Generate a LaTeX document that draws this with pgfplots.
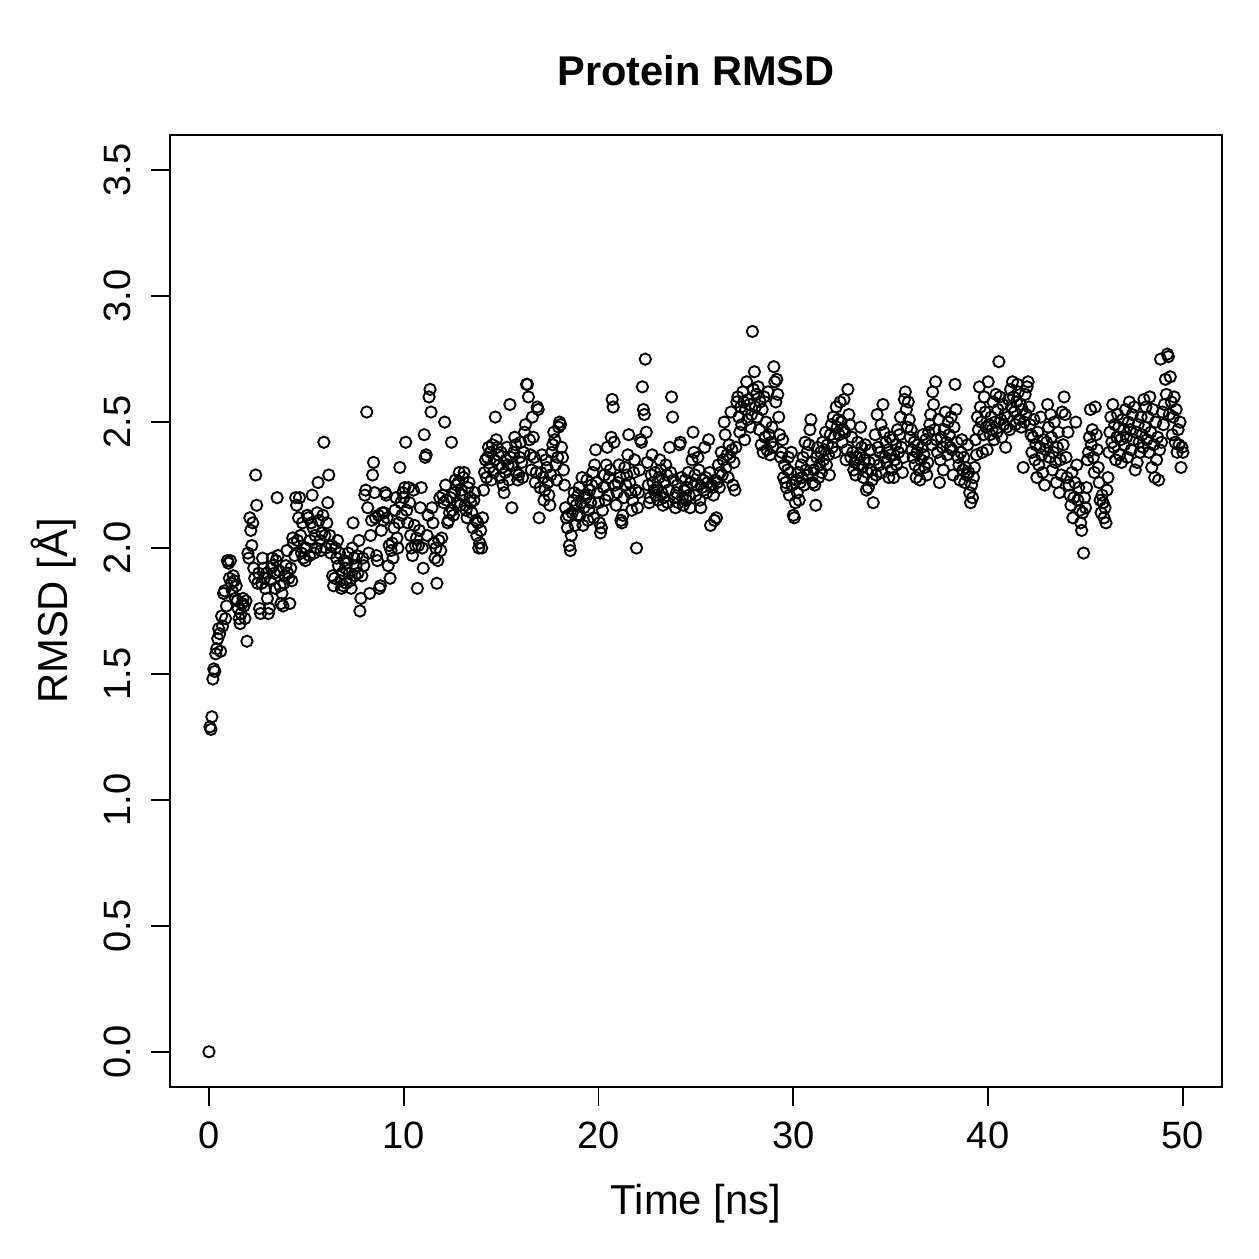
\documentclass[border=0pt]{standalone}
\usepackage{pgfplots}
\usepackage{pgfplotstable}
\pgfplotsset{compat=1.18}
\usepackage{fontspec}
\setmainfont{Liberation Sans}

% Backbone RMSD sampled every 50 ps
\pgfplotstableread[row sep=\\]{
t r\\
0.00 0.00\\ 0.05 1.29\\ 0.10 1.28\\ 0.15 1.33\\ 0.20 1.48\\ 0.25 1.52\\ 0.30 1.51\\ 0.35 1.58\\ 0.40 1.60\\ 0.45 1.64\\
0.50 1.68\\ 0.55 1.66\\ 0.60 1.59\\ 0.65 1.73\\ 0.70 1.69\\ 0.75 1.82\\ 0.80 1.83\\ 0.85 1.72\\ 0.90 1.77\\ 0.95 1.95\\
1.00 1.94\\ 1.05 1.88\\ 1.10 1.95\\ 1.15 1.86\\ 1.20 1.83\\ 1.25 1.89\\ 1.30 1.87\\ 1.35 1.80\\ 1.40 1.85\\ 1.45 1.79\\
1.50 1.76\\ 1.55 1.72\\ 1.60 1.70\\ 1.65 1.74\\ 1.70 1.78\\ 1.75 1.80\\ 1.80 1.77\\ 1.85 1.72\\ 1.90 1.79\\ 1.95 1.63\\
2.00 1.98\\ 2.05 1.96\\ 2.10 2.12\\ 2.15 2.07\\ 2.20 2.01\\ 2.25 2.10\\ 2.30 1.92\\ 2.35 1.88\\ 2.40 2.29\\ 2.45 2.17\\
2.50 1.86\\ 2.55 1.90\\ 2.60 1.76\\ 2.65 1.74\\ 2.70 1.86\\ 2.75 1.96\\ 2.80 1.92\\ 2.85 1.88\\ 2.90 1.84\\ 2.95 1.90\\
3.00 1.80\\ 3.05 1.74\\ 3.10 1.76\\ 3.15 1.87\\ 3.20 1.92\\ 3.25 1.96\\ 3.30 1.93\\ 3.35 1.90\\ 3.40 1.84\\ 3.45 1.95\\
3.50 2.20\\ 3.55 1.97\\ 3.60 1.91\\ 3.65 1.85\\ 3.70 1.78\\ 3.75 1.82\\ 3.80 1.77\\ 3.85 1.86\\ 3.90 1.89\\ 3.95 1.93\\
4.00 1.99\\ 4.05 1.90\\ 4.10 1.88\\ 4.15 1.78\\ 4.20 1.92\\ 4.25 1.87\\ 4.30 2.04\\ 4.35 2.02\\ 4.40 1.97\\ 4.45 2.20\\
4.50 2.17\\ 4.55 2.03\\ 4.60 2.12\\ 4.65 2.20\\ 4.70 2.05\\ 4.75 1.98\\ 4.80 2.10\\ 4.85 1.96\\ 4.90 2.00\\ 4.95 1.95\\
5.00 2.00\\ 5.05 2.13\\ 5.10 2.12\\ 5.15 1.97\\ 5.20 2.03\\ 5.25 2.10\\ 5.30 2.21\\ 5.35 2.08\\ 5.40 1.98\\ 5.45 2.05\\
5.50 2.00\\ 5.55 2.14\\ 5.60 2.26\\ 5.65 2.11\\ 5.70 2.03\\ 5.75 1.99\\ 5.80 2.06\\ 5.85 2.13\\ 5.90 2.42\\ 5.95 2.05\\
6.00 2.00\\ 6.05 2.10\\ 6.10 2.18\\ 6.15 2.29\\ 6.20 2.05\\ 6.25 1.98\\ 6.30 2.01\\ 6.35 1.89\\ 6.40 1.85\\ 6.45 1.88\\
6.50 2.00\\ 6.55 1.96\\ 6.60 2.03\\ 6.65 1.93\\ 6.70 1.98\\ 6.75 1.87\\ 6.80 1.84\\ 6.85 1.90\\ 6.90 1.85\\ 6.95 1.95\\
7.00 1.92\\ 7.05 1.86\\ 7.10 1.94\\ 7.15 1.98\\ 7.20 1.90\\ 7.25 1.87\\ 7.30 1.84\\ 7.35 2.00\\ 7.40 2.10\\ 7.45 1.96\\
7.50 1.89\\ 7.55 1.93\\ 7.60 1.97\\ 7.65 1.90\\ 7.70 2.03\\ 7.75 1.75\\ 7.80 1.80\\ 7.85 1.89\\ 7.90 1.96\\ 7.95 1.93\\
8.00 2.21\\ 8.05 2.23\\ 8.10 2.54\\ 8.15 2.16\\ 8.20 1.98\\ 8.25 1.82\\ 8.30 2.05\\ 8.35 2.11\\ 8.40 2.29\\ 8.45 2.34\\
8.50 2.22\\ 8.55 2.12\\ 8.60 1.97\\ 8.65 1.95\\ 8.70 2.13\\ 8.75 1.84\\ 8.80 1.85\\ 8.85 2.07\\ 8.90 2.14\\ 8.95 2.11\\
9.00 2.14\\ 9.05 2.22\\ 9.10 2.21\\ 9.15 2.12\\ 9.20 1.93\\ 9.25 2.01\\ 9.30 1.88\\ 9.35 1.99\\ 9.40 2.02\\ 9.45 1.96\\
9.50 2.08\\ 9.55 2.15\\ 9.60 2.20\\ 9.65 2.04\\ 9.70 2.00\\ 9.75 2.10\\ 9.80 2.32\\ 9.85 2.18\\ 9.90 2.13\\ 9.95 2.22\\
10.00 2.20\\ 10.05 2.24\\ 10.10 2.42\\ 10.15 2.15\\ 10.20 2.10\\ 10.25 2.24\\ 10.30 2.18\\ 10.35 2.05\\ 10.40 2.00\\ 10.45 1.97\\
10.50 2.23\\ 10.55 2.09\\ 10.60 2.01\\ 10.65 2.04\\ 10.70 1.84\\ 10.75 2.01\\ 10.80 2.07\\ 10.85 2.16\\ 10.90 2.24\\ 10.95 2.00\\
11.00 1.92\\ 11.05 2.45\\ 11.10 2.36\\ 11.15 2.37\\ 11.20 2.05\\ 11.25 2.13\\ 11.30 2.60\\ 11.35 2.63\\ 11.40 2.54\\ 11.45 2.16\\
11.50 2.10\\ 11.55 2.02\\ 11.60 1.96\\ 11.65 2.00\\ 11.70 1.86\\ 11.75 1.95\\ 11.80 2.03\\ 11.85 2.20\\ 11.90 1.99\\ 11.95 2.04\\
12.00 2.21\\ 12.05 2.18\\ 12.10 2.50\\ 12.15 2.25\\ 12.20 2.19\\ 12.25 2.10\\ 12.30 2.11\\ 12.35 2.14\\ 12.40 2.20\\ 12.45 2.42\\
12.50 2.15\\ 12.55 2.13\\ 12.60 2.22\\ 12.65 2.27\\ 12.70 2.25\\ 12.75 2.18\\ 12.80 2.26\\ 12.85 2.30\\ 12.90 2.17\\ 12.95 2.23\\
13.00 2.21\\ 13.05 2.28\\ 13.10 2.30\\ 13.15 2.17\\ 13.20 2.15\\ 13.25 2.12\\ 13.30 2.24\\ 13.35 2.26\\ 13.40 2.20\\ 13.45 2.18\\
13.50 2.14\\ 13.55 2.08\\ 13.60 2.19\\ 13.65 2.22\\ 13.70 2.11\\ 13.75 2.05\\ 13.80 2.10\\ 13.85 2.00\\ 13.90 2.02\\ 13.95 2.07\\
14.00 2.00\\ 14.05 2.12\\ 14.10 2.23\\ 14.15 2.30\\ 14.20 2.35\\ 14.25 2.28\\ 14.30 2.36\\ 14.35 2.40\\ 14.40 2.32\\ 14.45 2.38\\
14.50 2.27\\ 14.55 2.41\\ 14.60 2.30\\ 14.65 2.35\\ 14.70 2.52\\ 14.75 2.43\\ 14.80 2.40\\ 14.85 2.37\\ 14.90 2.33\\ 14.95 2.28\\
15.00 2.38\\ 15.05 2.32\\ 15.10 2.25\\ 15.15 2.22\\ 15.20 2.30\\ 15.25 2.35\\ 15.30 2.40\\ 15.35 2.33\\ 15.40 2.27\\ 15.45 2.57\\
15.50 2.36\\ 15.55 2.16\\ 15.60 2.33\\ 15.65 2.38\\ 15.70 2.44\\ 15.75 2.41\\ 15.80 2.30\\ 15.85 2.27\\ 15.90 2.29\\ 15.95 2.36\\
16.00 2.42\\ 16.05 2.34\\ 16.10 2.28\\ 16.15 2.38\\ 16.20 2.46\\ 16.25 2.49\\ 16.30 2.65\\ 16.35 2.65\\ 16.40 2.60\\ 16.45 2.43\\
16.50 2.37\\ 16.55 2.31\\ 16.60 2.52\\ 16.65 2.44\\ 16.70 2.36\\ 16.75 2.26\\ 16.80 2.30\\ 16.85 2.56\\ 16.90 2.55\\ 16.95 2.12\\
17.00 2.24\\ 17.05 2.30\\ 17.10 2.37\\ 17.15 2.28\\ 17.20 2.19\\ 17.25 2.23\\ 17.30 2.35\\ 17.35 2.32\\ 17.40 2.26\\ 17.45 2.21\\
17.50 2.17\\ 17.55 2.29\\ 17.60 2.38\\ 17.65 2.41\\ 17.70 2.46\\ 17.75 2.43\\ 17.80 2.33\\ 17.85 2.27\\ 17.90 2.36\\ 17.95 2.48\\
18.00 2.50\\ 18.05 2.49\\ 18.10 2.40\\ 18.15 2.36\\ 18.20 2.31\\ 18.25 2.25\\ 18.30 2.16\\ 18.35 2.12\\ 18.40 2.08\\ 18.45 2.13\\
18.50 2.01\\ 18.55 1.99\\ 18.60 2.05\\ 18.65 2.14\\ 18.70 2.19\\ 18.75 2.22\\ 18.80 2.09\\ 18.85 2.17\\ 18.90 2.13\\ 18.95 2.21\\
19.00 2.24\\ 19.05 2.13\\ 19.10 2.18\\ 19.15 2.28\\ 19.20 2.09\\ 19.25 2.16\\ 19.30 2.21\\ 19.35 2.20\\ 19.40 2.27\\ 19.45 2.11\\
19.50 2.15\\ 19.55 2.23\\ 19.60 2.18\\ 19.65 2.25\\ 19.70 2.30\\ 19.75 2.12\\ 19.80 2.33\\ 19.85 2.39\\ 19.90 2.26\\ 19.95 2.22\\
20.00 2.18\\ 20.05 2.10\\ 20.10 2.06\\ 20.15 2.08\\ 20.20 2.15\\ 20.25 2.24\\ 20.30 2.29\\ 20.35 2.19\\ 20.40 2.33\\ 20.45 2.40\\
20.50 2.21\\ 20.55 2.28\\ 20.60 2.31\\ 20.65 2.44\\ 20.70 2.59\\ 20.75 2.56\\ 20.80 2.42\\ 20.85 2.25\\ 20.90 2.17\\ 20.95 2.22\\
21.00 2.26\\ 21.05 2.33\\ 21.10 2.28\\ 21.15 2.11\\ 21.20 2.10\\ 21.25 2.13\\ 21.30 2.20\\ 21.35 2.32\\ 21.40 2.25\\ 21.45 2.29\\
21.50 2.37\\ 21.55 2.45\\ 21.60 2.26\\ 21.65 2.22\\ 21.70 2.15\\ 21.75 2.19\\ 21.80 2.30\\ 21.85 2.35\\ 21.90 2.23\\ 21.95 2.00\\
22.00 2.16\\ 22.05 2.22\\ 22.10 2.31\\ 22.15 2.43\\ 22.20 2.42\\ 22.25 2.64\\ 22.30 2.55\\ 22.35 2.53\\ 22.40 2.75\\ 22.45 2.46\\
22.50 2.34\\ 22.55 2.25\\ 22.60 2.18\\ 22.65 2.20\\ 22.70 2.29\\ 22.75 2.37\\ 22.80 2.26\\ 22.85 2.23\\ 22.90 2.30\\ 22.95 2.21\\
23.00 2.24\\ 23.05 2.19\\ 23.10 2.28\\ 23.15 2.35\\ 23.20 2.31\\ 23.25 2.22\\ 23.30 2.17\\ 23.35 2.20\\ 23.40 2.26\\ 23.45 2.33\\
23.50 2.29\\ 23.55 2.18\\ 23.60 2.23\\ 23.65 2.40\\ 23.70 2.30\\ 23.75 2.60\\ 23.80 2.52\\ 23.85 2.27\\ 23.90 2.20\\ 23.95 2.16\\
24.00 2.22\\ 24.05 2.25\\ 24.10 2.18\\ 24.15 2.41\\ 24.20 2.42\\ 24.25 2.28\\ 24.30 2.20\\ 24.35 2.17\\ 24.40 2.23\\ 24.45 2.27\\
24.50 2.19\\ 24.55 2.24\\ 24.60 2.30\\ 24.65 2.21\\ 24.70 2.16\\ 24.75 2.26\\ 24.80 2.35\\ 24.85 2.46\\ 24.90 2.38\\ 24.95 2.29\\
25.00 2.21\\ 25.05 2.25\\ 25.10 2.36\\ 25.15 2.31\\ 25.20 2.19\\ 25.25 2.16\\ 25.30 2.24\\ 25.35 2.27\\ 25.40 2.23\\ 25.45 2.40\\
25.50 2.28\\ 25.55 2.22\\ 25.60 2.26\\ 25.65 2.43\\ 25.70 2.30\\ 25.75 2.09\\ 25.80 2.25\\ 25.85 2.24\\ 25.90 2.21\\ 25.95 2.11\\
26.00 2.27\\ 26.05 2.12\\ 26.10 2.26\\ 26.15 2.33\\ 26.20 2.24\\ 26.25 2.30\\ 26.30 2.38\\ 26.35 2.29\\ 26.40 2.35\\ 26.45 2.50\\
26.50 2.45\\ 26.55 2.32\\ 26.60 2.37\\ 26.65 2.28\\ 26.70 2.41\\ 26.75 2.36\\ 26.80 2.54\\ 26.85 2.39\\ 26.90 2.25\\ 26.95 2.34\\
27.00 2.23\\ 27.05 2.40\\ 27.10 2.58\\ 27.15 2.60\\ 27.20 2.52\\ 27.25 2.46\\ 27.30 2.56\\ 27.35 2.49\\ 27.40 2.62\\ 27.45 2.58\\
27.50 2.43\\ 27.55 2.55\\ 27.60 2.66\\ 27.65 2.51\\ 27.70 2.59\\ 27.75 2.57\\ 27.80 2.48\\ 27.85 2.53\\ 27.90 2.86\\ 27.95 2.63\\
28.00 2.70\\ 28.05 2.56\\ 28.10 2.61\\ 28.15 2.52\\ 28.20 2.64\\ 28.25 2.47\\ 28.30 2.58\\ 28.35 2.41\\ 28.40 2.55\\ 28.45 2.38\\
28.50 2.60\\ 28.55 2.44\\ 28.60 2.50\\ 28.65 2.39\\ 28.70 2.62\\ 28.75 2.45\\ 28.80 2.37\\ 28.85 2.42\\ 28.90 2.48\\ 28.95 2.40\\
29.00 2.72\\ 29.05 2.66\\ 29.10 2.58\\ 29.15 2.67\\ 29.20 2.61\\ 29.25 2.52\\ 29.30 2.45\\ 29.35 2.36\\ 29.40 2.38\\ 29.45 2.43\\
29.50 2.28\\ 29.55 2.33\\ 29.60 2.26\\ 29.65 2.24\\ 29.70 2.31\\ 29.75 2.36\\ 29.80 2.21\\ 29.85 2.30\\ 29.90 2.38\\ 29.95 2.25\\
30.00 2.13\\ 30.05 2.12\\ 30.10 2.18\\ 30.15 2.27\\ 30.20 2.22\\ 30.25 2.30\\ 30.30 2.19\\ 30.35 2.26\\ 30.40 2.33\\ 30.45 2.28\\
30.50 2.36\\ 30.55 2.25\\ 30.60 2.42\\ 30.65 2.31\\ 30.70 2.38\\ 30.75 2.29\\ 30.80 2.41\\ 30.85 2.47\\ 30.90 2.51\\ 30.95 2.34\\
31.00 2.26\\ 31.05 2.31\\ 31.10 2.25\\ 31.15 2.17\\ 31.20 2.36\\ 31.25 2.40\\ 31.30 2.28\\ 31.35 2.33\\ 31.40 2.38\\ 31.45 2.30\\
31.50 2.42\\ 31.55 2.35\\ 31.60 2.39\\ 31.65 2.46\\ 31.70 2.33\\ 31.75 2.41\\ 31.80 2.37\\ 31.85 2.29\\ 31.90 2.45\\ 31.95 2.49\\
32.00 2.40\\ 32.05 2.52\\ 32.10 2.44\\ 32.15 2.38\\ 32.20 2.56\\ 32.25 2.48\\ 32.30 2.51\\ 32.35 2.45\\ 32.40 2.58\\ 32.45 2.50\\
32.50 2.42\\ 32.55 2.47\\ 32.60 2.59\\ 32.65 2.46\\ 32.70 2.35\\ 32.75 2.39\\ 32.80 2.63\\ 32.85 2.53\\ 32.90 2.49\\ 32.95 2.36\\
33.00 2.44\\ 33.05 2.38\\ 33.10 2.31\\ 33.15 2.34\\ 33.20 2.29\\ 33.25 2.36\\ 33.30 2.42\\ 33.35 2.33\\ 33.40 2.37\\ 33.45 2.48\\
33.50 2.40\\ 33.55 2.32\\ 33.60 2.28\\ 33.65 2.35\\ 33.70 2.41\\ 33.75 2.23\\ 33.80 2.30\\ 33.85 2.24\\ 33.90 2.34\\ 33.95 2.39\\
34.00 2.31\\ 34.05 2.27\\ 34.10 2.18\\ 34.15 2.35\\ 34.20 2.45\\ 34.25 2.29\\ 34.30 2.53\\ 34.35 2.40\\ 34.40 2.33\\ 34.45 2.38\\
34.50 2.49\\ 34.55 2.30\\ 34.60 2.57\\ 34.65 2.46\\ 34.70 2.36\\ 34.75 2.42\\ 34.80 2.34\\ 34.85 2.39\\ 34.90 2.28\\ 34.95 2.44\\
35.00 2.37\\ 35.05 2.31\\ 35.10 2.43\\ 35.15 2.28\\ 35.20 2.35\\ 35.25 2.41\\ 35.30 2.33\\ 35.35 2.47\\ 35.40 2.38\\ 35.45 2.45\\
35.50 2.52\\ 35.55 2.40\\ 35.60 2.30\\ 35.65 2.36\\ 35.70 2.59\\ 35.75 2.62\\ 35.80 2.55\\ 35.85 2.48\\ 35.90 2.58\\ 35.95 2.51\\
36.00 2.44\\ 36.05 2.47\\ 36.10 2.39\\ 36.15 2.36\\ 36.20 2.42\\ 36.25 2.33\\ 36.30 2.28\\ 36.35 2.38\\ 36.40 2.41\\ 36.45 2.31\\
36.50 2.27\\ 36.55 2.35\\ 36.60 2.40\\ 36.65 2.45\\ 36.70 2.37\\ 36.75 2.32\\ 36.80 2.43\\ 36.85 2.29\\ 36.90 2.34\\ 36.95 2.46\\
37.00 2.49\\ 37.05 2.53\\ 37.10 2.41\\ 37.15 2.62\\ 37.20 2.57\\ 37.25 2.47\\ 37.30 2.66\\ 37.35 2.43\\ 37.40 2.38\\ 37.45 2.51\\
37.50 2.26\\ 37.55 2.35\\ 37.60 2.44\\ 37.65 2.40\\ 37.70 2.31\\ 37.75 2.47\\ 37.80 2.54\\ 37.85 2.42\\ 37.90 2.37\\ 37.95 2.50\\
38.00 2.45\\ 38.05 2.40\\ 38.10 2.52\\ 38.15 2.39\\ 38.20 2.29\\ 38.25 2.48\\ 38.30 2.65\\ 38.35 2.55\\ 38.40 2.42\\ 38.45 2.36\\
38.50 2.33\\ 38.55 2.27\\ 38.60 2.38\\ 38.65 2.43\\ 38.70 2.31\\ 38.75 2.36\\ 38.80 2.26\\ 38.85 2.32\\ 38.90 2.29\\ 38.95 2.41\\
39.00 2.30\\ 39.05 2.22\\ 39.10 2.18\\ 39.15 2.25\\ 39.20 2.20\\ 39.25 2.28\\ 39.30 2.32\\ 39.35 2.43\\ 39.40 2.37\\ 39.45 2.52\\
39.50 2.47\\ 39.55 2.64\\ 39.60 2.56\\ 39.65 2.50\\ 39.70 2.38\\ 39.75 2.45\\ 39.80 2.60\\ 39.85 2.54\\ 39.90 2.48\\ 39.95 2.39\\
40.00 2.66\\ 40.05 2.49\\ 40.10 2.45\\ 40.15 2.52\\ 40.20 2.47\\ 40.25 2.58\\ 40.30 2.43\\ 40.35 2.50\\ 40.40 2.61\\ 40.45 2.46\\
40.50 2.55\\ 40.55 2.74\\ 40.60 2.60\\ 40.65 2.51\\ 40.70 2.44\\ 40.75 2.57\\ 40.80 2.49\\ 40.85 2.53\\ 40.90 2.40\\ 40.95 2.48\\
41.00 2.52\\ 41.05 2.59\\ 41.10 2.47\\ 41.15 2.63\\ 41.20 2.56\\ 41.25 2.66\\ 41.30 2.60\\ 41.35 2.54\\ 41.40 2.49\\ 41.45 2.58\\
41.50 2.65\\ 41.55 2.62\\ 41.60 2.51\\ 41.65 2.57\\ 41.70 2.48\\ 41.75 2.55\\ 41.80 2.32\\ 41.85 2.50\\ 41.90 2.61\\ 41.95 2.53\\
42.00 2.64\\ 42.05 2.66\\ 42.10 2.56\\ 42.15 2.49\\ 42.20 2.45\\ 42.25 2.38\\ 42.30 2.44\\ 42.35 2.51\\ 42.40 2.35\\ 42.45 2.41\\
42.50 2.28\\ 42.55 2.46\\ 42.60 2.33\\ 42.65 2.40\\ 42.70 2.52\\ 42.75 2.37\\ 42.80 2.30\\ 42.85 2.43\\ 42.90 2.25\\ 42.95 2.39\\
43.00 2.42\\ 43.05 2.57\\ 43.10 2.48\\ 43.15 2.36\\ 43.20 2.53\\ 43.25 2.44\\ 43.30 2.31\\ 43.35 2.38\\ 43.40 2.50\\ 43.45 2.34\\
43.50 2.26\\ 43.55 2.40\\ 43.60 2.46\\ 43.65 2.22\\ 43.70 2.35\\ 43.75 2.29\\ 43.80 2.54\\ 43.85 2.41\\ 43.90 2.60\\ 43.95 2.53\\
44.00 2.36\\ 44.05 2.28\\ 44.10 2.46\\ 44.15 2.25\\ 44.20 2.21\\ 44.25 2.17\\ 44.30 2.30\\ 44.35 2.12\\ 44.40 2.20\\ 44.45 2.26\\
44.50 2.50\\ 44.55 2.33\\ 44.60 2.19\\ 44.65 2.24\\ 44.70 2.15\\ 44.75 2.10\\ 44.80 2.07\\ 44.85 2.14\\ 44.90 1.98\\ 44.95 2.20\\
45.00 2.16\\ 45.05 2.24\\ 45.10 2.35\\ 45.15 2.38\\ 45.20 2.44\\ 45.25 2.55\\ 45.30 2.41\\ 45.35 2.47\\ 45.40 2.36\\ 45.45 2.30\\
45.50 2.56\\ 45.55 2.45\\ 45.60 2.39\\ 45.65 2.32\\ 45.70 2.26\\ 45.75 2.19\\ 45.80 2.14\\ 45.85 2.21\\ 45.90 2.18\\ 45.95 2.12\\
46.00 2.16\\ 46.05 2.10\\ 46.10 2.23\\ 46.15 2.28\\ 46.20 2.38\\ 46.25 2.46\\ 46.30 2.52\\ 46.35 2.42\\ 46.40 2.57\\ 46.45 2.40\\
46.50 2.49\\ 46.55 2.35\\ 46.60 2.44\\ 46.65 2.53\\ 46.70 2.48\\ 46.75 2.37\\ 46.80 2.43\\ 46.85 2.34\\ 46.90 2.51\\ 46.95 2.47\\
47.00 2.41\\ 47.05 2.55\\ 47.10 2.44\\ 47.15 2.36\\ 47.20 2.50\\ 47.25 2.58\\ 47.30 2.47\\ 47.35 2.39\\ 47.40 2.53\\ 47.45 2.43\\
47.50 2.56\\ 47.55 2.31\\ 47.60 2.46\\ 47.65 2.34\\ 47.70 2.49\\ 47.75 2.42\\ 47.80 2.38\\ 47.85 2.52\\ 47.90 2.45\\ 47.95 2.40\\
48.00 2.59\\ 48.05 2.48\\ 48.10 2.56\\ 48.15 2.43\\ 48.20 2.52\\ 48.25 2.38\\ 48.30 2.60\\ 48.35 2.46\\ 48.40 2.32\\ 48.45 2.55\\
48.50 2.41\\ 48.55 2.28\\ 48.60 2.50\\ 48.65 2.35\\ 48.70 2.44\\ 48.75 2.27\\ 48.80 2.39\\ 48.85 2.75\\ 48.90 2.42\\ 48.95 2.54\\
49.00 2.49\\ 49.05 2.57\\ 49.10 2.67\\ 49.15 2.61\\ 49.20 2.77\\ 49.25 2.76\\ 49.30 2.53\\ 49.35 2.68\\ 49.40 2.58\\ 49.45 2.45\\
49.50 2.52\\ 49.55 2.60\\ 49.60 2.42\\ 49.65 2.55\\ 49.70 2.38\\ 49.75 2.47\\ 49.80 2.41\\ 49.85 2.50\\ 49.90 2.32\\ 49.95 2.40\\
50.00 2.38\\
}\rmsd

\begin{document}
\begin{tikzpicture}
\fill[white] (0,0) rectangle (504bp,504bp);
\begin{axis}[
  name=ax,
  at={(68.05bp,68.85bp)}, anchor=south west,
  width=421.1bp, height=381.1bp, scale only axis,
  xmin=-2, xmax=52, ymin=-0.14, ymax=3.64,
  xtick={0,10,20,30,40,50},
  ytick={0,0.5,1,1.5,2,2.5,3,3.5},
  tick align=outside, tick pos=left,
  major tick length=7.6bp,
  every tick/.style={black, line width=0.75bp},
  axis line style={line width=0.75bp},
  ticklabel style={font=\fontsize{15.3}{18}\selectfont},
  /pgf/number format/assume math mode=true,
  xticklabel style={anchor=base},
  xticklabel shift=17.2bp,
  yticklabel style={rotate=90, anchor=base,
    /pgf/number format/.cd, fixed, fixed zerofill, precision=1},
  yticklabel shift=8.4bp,
]
\addplot[only marks, mark=o, mark size=2.27bp, black,
  mark options={line width=0.75bp}] table[x=t, y=r] {\rmsd};
\end{axis}
\node[anchor=base, font=\fontsize{16.7}{20}\selectfont\bfseries]
  at ([yshift=20bp]ax.north) {Protein RMSD};
\node[anchor=base, font=\fontsize{16.8}{20}\selectfont]
  at ([yshift=-51.2bp]ax.south) {Time [ns]};
\node[anchor=base, rotate=90, font=\fontsize{16.8}{20}\selectfont]
  at ([xshift=-41.2bp]ax.west) {RMSD [Å]};
\path[use as bounding box] (0,0) rectangle (504bp,504bp);
\end{tikzpicture}
\end{document}
